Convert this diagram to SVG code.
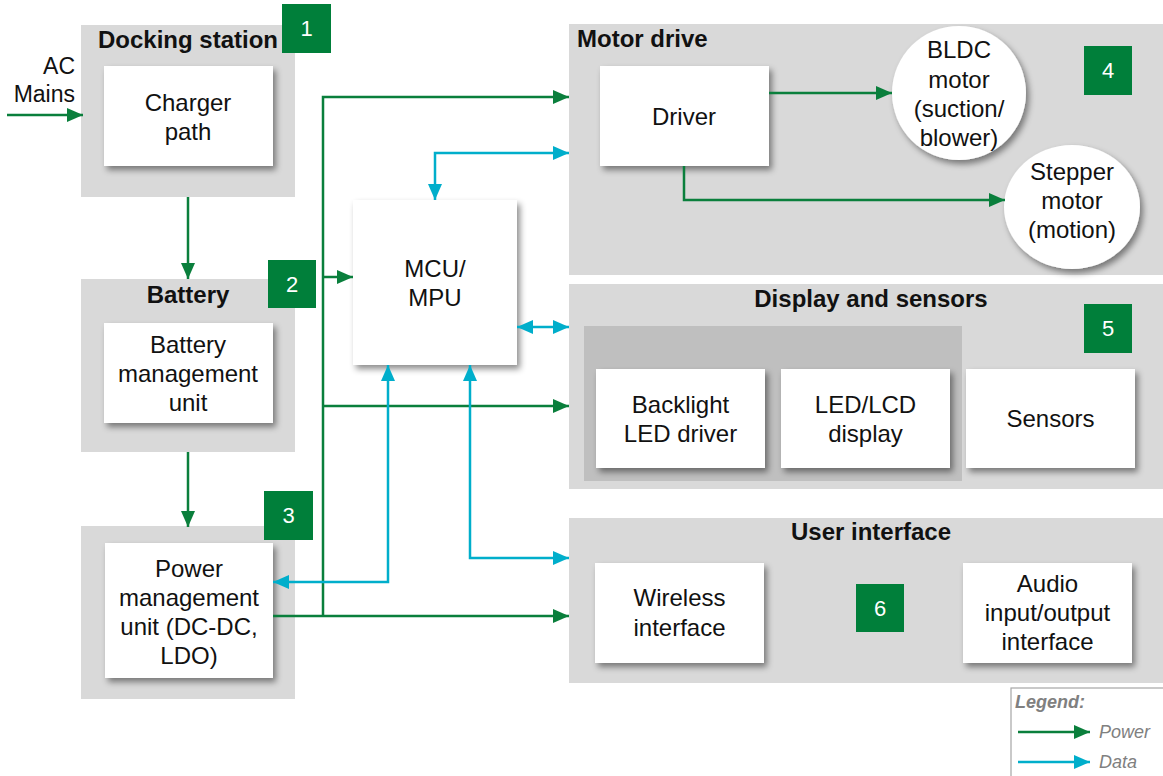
<svg xmlns="http://www.w3.org/2000/svg" width="1163" height="776" viewBox="0 0 1163 776">
<style>
text{font-family:"Liberation Sans",Arial,sans-serif;fill:#111}
.t{font-size:24px;text-anchor:middle}
.h{font-size:24px;font-weight:bold}
.hc{font-size:24px;font-weight:bold;text-anchor:middle}
.panel{fill:#d9d9d9}
.box{fill:#fff;filter:url(#sh)}
.badge{fill:#007f3a}
.bn{font-size:22px;fill:#fff;text-anchor:middle}
.pw{fill:none;stroke:#0a7f3c;stroke-width:2.5;marker-end:url(#ag)}
.dt{fill:none;stroke:#00aecb;stroke-width:2.5;marker-end:url(#ac);marker-start:url(#ac)}
.lg{font-size:18px;font-style:italic;fill:#808080}
</style>
<defs>
<filter id="sh" x="-20%" y="-20%" width="150%" height="150%">
<feDropShadow dx="3" dy="4" stdDeviation="3" flood-color="#000" flood-opacity="0.45"/>
</filter>
<marker id="ag" markerUnits="userSpaceOnUse" markerWidth="16" markerHeight="14" refX="16" refY="7" orient="auto-start-reverse">
<path d="M0,0 L16,7 L0,14 z" fill="#0a7f3c"/>
</marker>
<marker id="ac" markerUnits="userSpaceOnUse" markerWidth="16" markerHeight="14" refX="16" refY="7" orient="auto-start-reverse">
<path d="M0,0 L16,7 L0,14 z" fill="#00aecb"/>
</marker>
</defs>

<g id="docking">
<rect class="panel" x="81" y="25" width="214" height="172"/>
<text class="hc" x="188" y="48">Docking station</text>
<rect class="badge" x="282" y="4" width="49" height="49"/>
<text class="bn" x="306.5" y="36">1</text>
<rect class="box" x="104" y="66" width="169" height="100"/>
<text class="t" x="188" y="111">Charger</text>
<text class="t" x="188" y="140">path</text>
</g>

<g id="ac-mains">
<text font-size="23" text-anchor="end" x="75" y="74">AC</text>
<text font-size="23" text-anchor="end" x="75" y="102">Mains</text>
</g>

<g id="battery">
<rect class="panel" x="81" y="279" width="214" height="173"/>
<text class="hc" x="188" y="303">Battery</text>
<rect class="badge" x="268" y="260" width="48" height="48"/>
<text class="bn" x="292" y="292">2</text>
<rect class="box" x="104" y="323" width="169" height="100"/>
<text class="t" x="188" y="353">Battery</text>
<text class="t" x="188" y="382">management</text>
<text class="t" x="188" y="411">unit</text>
</g>

<g id="pmu">
<rect class="panel" x="81" y="526" width="214" height="173"/>
<rect class="badge" x="264" y="491" width="49" height="49"/>
<text class="bn" x="288.5" y="523">3</text>
<rect class="box" x="105" y="543" width="168" height="135"/>
<text class="t" x="189" y="577">Power</text>
<text class="t" x="189" y="606">management</text>
<text class="t" x="189" y="635">unit (DC-DC,</text>
<text class="t" x="189" y="664">LDO)</text>
</g>

<g id="mcu">
<rect class="box" x="353" y="200" width="164" height="165"/>
<text class="t" x="435" y="277">MCU/</text>
<text class="t" x="435" y="306">MPU</text>
</g>

<g id="motor-drive">
<rect class="panel" x="569" y="24" width="594" height="251"/>
<text class="h" x="577" y="47">Motor drive</text>
<rect class="badge" x="1084" y="46" width="48" height="49"/>
<text class="bn" x="1108" y="78">4</text>
<rect class="box" x="600" y="66" width="169" height="100"/>
<text class="t" x="684" y="125">Driver</text>
<ellipse class="box" cx="959" cy="93" rx="67" ry="67"/>
<text class="t" x="959" y="58">BLDC</text>
<text class="t" x="959" y="88">motor</text>
<text class="t" x="959" y="117">(suction/</text>
<text class="t" x="959" y="146">blower)</text>
<ellipse class="box" cx="1072" cy="207" rx="68" ry="62"/>
<text class="t" x="1072" y="180">Stepper</text>
<text class="t" x="1072" y="209">motor</text>
<text class="t" x="1072" y="238">(motion)</text>
</g>

<g id="display-sensors">
<rect class="panel" x="569" y="284" width="594" height="205"/>
<text class="hc" x="871" y="307">Display and sensors</text>
<rect class="badge" x="1084" y="304" width="48" height="49"/>
<text class="bn" x="1108" y="336">5</text>
<rect x="584" y="326" width="378" height="155" fill="#bfbfbf"/>
<rect class="box" x="596" y="369" width="169" height="99"/>
<text class="t" x="680.5" y="413">Backlight</text>
<text class="t" x="680.5" y="442">LED driver</text>
<rect class="box" x="781" y="369" width="169" height="99"/>
<text class="t" x="865.5" y="413">LED/LCD</text>
<text class="t" x="865.5" y="442">display</text>
<rect class="box" x="966" y="369" width="169" height="99"/>
<text class="t" x="1050.5" y="427">Sensors</text>
</g>

<g id="user-interface">
<rect class="panel" x="569" y="518" width="594" height="165"/>
<text class="hc" x="871" y="540">User interface</text>
<rect class="badge" x="856" y="584" width="48" height="48"/>
<text class="bn" x="880" y="616">6</text>
<rect class="box" x="595" y="563" width="169" height="100"/>
<text class="t" x="679.5" y="606">Wireless</text>
<text class="t" x="679.5" y="636">interface</text>
<rect class="box" x="963" y="563" width="169" height="100"/>
<text class="t" x="1047.5" y="592">Audio</text>
<text class="t" x="1047.5" y="621">input/output</text>
<text class="t" x="1047.5" y="650">interface</text>
</g>

<g id="connectors">
<path class="pw" d="M7,115 H83"/>
<path class="pw" d="M188,197 V279"/>
<path class="pw" d="M188,452 V527"/>
<path class="pw" d="M273,616 H569"/>
<path class="pw" d="M323,616 V97 H569"/>
<path class="pw" d="M323,277 H353"/>
<path class="pw" d="M323,406 H569"/>
<path class="pw" d="M769,93 H892"/>
<path class="pw" d="M684,166 V200 H1005"/>
<path class="dt" d="M435,200 V153 H569"/>
<path class="dt" d="M517,327 H569"/>
<path class="dt" d="M388,365 V582 H273"/>
<path class="dt" d="M470,365 V558 H569"/>
</g>

<g id="legend">
<rect x="1011" y="688" width="160" height="100" fill="#fff" stroke="#a6a6a6" stroke-width="1.2"/>
<text class="lg" font-weight="bold" x="1015" y="708">Legend:</text>
<path class="pw" d="M1018,732 H1090"/>
<text class="lg" x="1099" y="738">Power</text>
<path fill="none" stroke="#00aecb" stroke-width="2.5" marker-end="url(#ac)" d="M1018,762 H1090"/>
<text class="lg" x="1099" y="768">Data</text>
</g>
</svg>
